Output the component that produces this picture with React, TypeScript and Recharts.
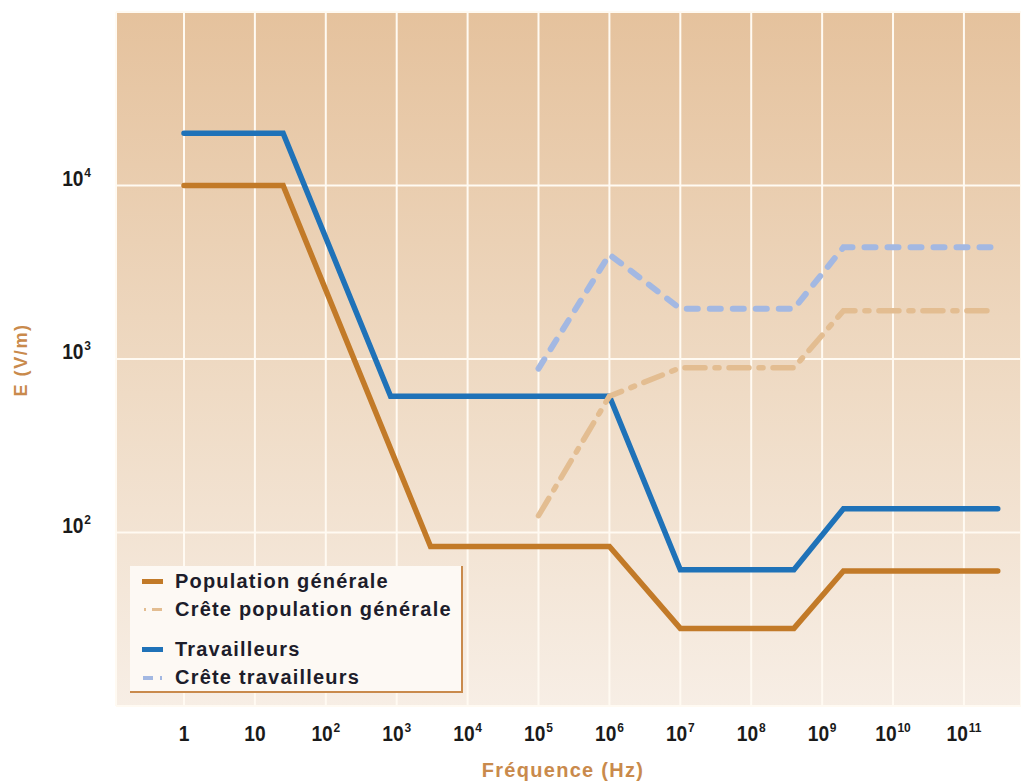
import { LineChart, Line, XAxis, YAxis, CartesianGrid, Legend } from 'recharts';

// Frequency (Hz) and field strength E (V/m)
const popFreq = [1, 25, 3000, 1e6, 1e7, 4e8, 2e9, 3e11];
const popE = [10000, 10000, 83, 83, 28, 28, 60, 60];

const workFreq = [1, 25, 820, 1e6, 1e7, 4e8, 2e9, 3e11];
const workE = [20000, 20000, 610, 610, 61, 61, 137, 137];

const popPeakFreq = [1e5, 1e6, 1e7, 4e8, 2e9, 2.5e11];
const popPeakE = [125, 610, 890, 890, 1900, 1900];

const workPeakFreq = [1e5, 1e6, 1e7, 4e8, 2e9, 2.5e11];
const workPeakE = [880, 4000, 1950, 1950, 4400, 4400];

const xTicks = [1, 10, 1e2, 1e3, 1e4, 1e5, 1e6, 1e7, 1e8, 1e9, 1e10, 1e11];
const yTicks = [1e2, 1e3, 1e4];

const legendLabels = [
  'Population générale',
  'Crête population générale',
  'Travailleurs',
  'Crête travailleurs',
];

const toRows = (f: number[], e: number[]) => f.map((v, i) => ({ f: v, e: e[i] }));

const BROWN = '#c27a28';
const BLUE = '#1f72b8';
const TAN = '#e3bd91';
const LIGHT_BLUE = '#a3b8e2';
const LABEL_BROWN = '#c98a4c';
const SANS = "'Liberation Sans', Arial, sans-serif";

const tickStyle = { fontFamily: SANS, fontWeight: 'bold', fontSize: 24, fill: '#1a1a1a' } as const;

const powLabel = (v: number) => {
  const exp = Math.round(Math.log10(v));
  if (exp === 0) return <>1</>;
  if (exp === 1) return <>10</>;
  return (
    <>
      10<tspan dx={1} dy={-10} style={{ fontSize: 15 }}>{exp}</tspan>
    </>
  );
};

// condensed look: squeeze a bold sans horizontally
const XTick = ({ x, y, payload }: any) => (
  <g transform={`translate(${x},${y + 35}) scale(0.8,0.9)`}>
    <text x={0} y={0} textAnchor="middle" style={tickStyle}>
      {powLabel(payload.value)}
    </text>
  </g>
);

const YTick = ({ x, y, payload }: any) => (
  <g transform={`translate(${x - 25},${y}) scale(0.8,0.9)`}>
    <text x={0} y={0} textAnchor="end" style={tickStyle}>
      {powLabel(payload.value)}
    </text>
  </g>
);

const Swatch = ({ i }: { i: number }) => (
  <svg width={30} height={10} style={{ position: 'absolute', left: 10, top: -5 }}>
    {i === 0 && <rect x={2} y={2} width={21} height={5} fill={BROWN} />}
    {i === 1 && (
      <>
        <rect x={4} y={3} width={2} height={3} fill={TAN} />
        <rect x={12} y={3} width={10} height={3} fill={TAN} />
      </>
    )}
    {i === 2 && <rect x={2} y={2} width={21} height={5} fill={BLUE} />}
    {i === 3 && (
      <>
        <rect x={3} y={3} width={10} height={4} fill={LIGHT_BLUE} />
        <rect x={20} y={3} width={2} height={4} fill={LIGHT_BLUE} />
      </>
    )}
  </svg>
);

const LegendBox = () => {
  const rowTops = [16, 44, 84, 112];
  return (
    <div
      style={{
        position: 'relative',
        width: 333,
        height: 127,
        boxSizing: 'border-box',
        background: '#fdf9f4',
        borderRight: `2px solid ${LABEL_BROWN}`,
        borderBottom: `2px solid ${LABEL_BROWN}`,
        fontFamily: SANS,
        fontWeight: 'bold',
        fontSize: 20,
        letterSpacing: 1.2,
        color: '#1d1d2b',
      }}
    >
      {legendLabels.map((label, i) => (
        <div key={label} style={{ position: 'absolute', left: 0, top: rowTops[i], width: '100%' }}>
          <Swatch i={i} />
          <span style={{ position: 'absolute', left: 45, top: -13, whiteSpace: 'nowrap', lineHeight: '24px' }}>
            {label}
          </span>
        </div>
      ))}
    </div>
  );
};

export default function App() {
  return (
    <div style={{ position: 'absolute', left: 0, top: 0, background: '#fff' }}>
      <LineChart width={1021} height={781} margin={{ top: 12, right: 0, left: 0, bottom: 0 }}>
        <defs>
          <linearGradient id="bgGrad" x1="0" y1="0" x2="0" y2="1">
            <stop offset="0%" stopColor="#e5c29d" />
            <stop offset="55%" stopColor="#efdbc5" />
            <stop offset="100%" stopColor="#f7eee5" />
          </linearGradient>
        </defs>
        <CartesianGrid stroke="#fffaf2" strokeWidth={2} fill="url(#bgGrad)" fillOpacity={1} />
        <XAxis
          dataKey="f"
          type="number"
          scale="log"
          domain={[Math.pow(10, -0.959), Math.pow(10, 11.805)]}
          allowDataOverflow
          ticks={xTicks}
          interval={0}
          axisLine={false}
          tickLine={false}
          tickSize={0}
          tickMargin={0}
          height={75}
          tick={<XTick />}
          label={{
            content: () => (
              <text x={563} y={777} textAnchor="middle" fontFamily={SANS} fontWeight="bold" fontSize={20} letterSpacing={1.3} fill={LABEL_BROWN}>
                Fréquence (Hz)
              </text>
            ),
          }}
        />
        <YAxis
          dataKey="e"
          type="number"
          scale="log"
          domain={[10, 1e5]}
          allowDataOverflow
          ticks={yTicks}
          interval={0}
          axisLine={false}
          tickLine={false}
          tickSize={0}
          tickMargin={0}
          width={116}
          tick={<YTick />}
          label={{
            content: () => (
              <text x={27} y={360} transform="rotate(-90 27 360)" textAnchor="middle" fontFamily={SANS} fontWeight="bold" fontSize={18} letterSpacing={1.6} fill={LABEL_BROWN}>
                E (V/m)
              </text>
            ),
          }}
        />
        <Legend
          layout="horizontal"
          verticalAlign="middle"
          align="center"
          content={() => <LegendBox />}
          wrapperStyle={{ position: 'absolute', left: 130, top: 566, width: 333, height: 127 }}
        />
        <Line data={toRows(popFreq, popE)} dataKey="e" type="linear" stroke={BROWN} strokeWidth={5.5} strokeLinecap="round" dot={false} isAnimationActive={false} />
        <Line data={toRows(workFreq, workE)} dataKey="e" type="linear" stroke={BLUE} strokeWidth={5.5} strokeLinecap="round" dot={false} isAnimationActive={false} />
        <Line data={toRows(popPeakFreq, popPeakE)} dataKey="e" type="linear" stroke={TAN} strokeWidth={5.5} strokeLinecap="round" strokeDasharray="20 10 4 10" dot={false} isAnimationActive={false} />
        <Line data={toRows(workPeakFreq, workPeakE)} dataKey="e" type="linear" stroke={LIGHT_BLUE} strokeWidth={6} strokeLinecap="round" strokeDasharray="11 12" dot={false} isAnimationActive={false} />
      </LineChart>
    </div>
  );
}
